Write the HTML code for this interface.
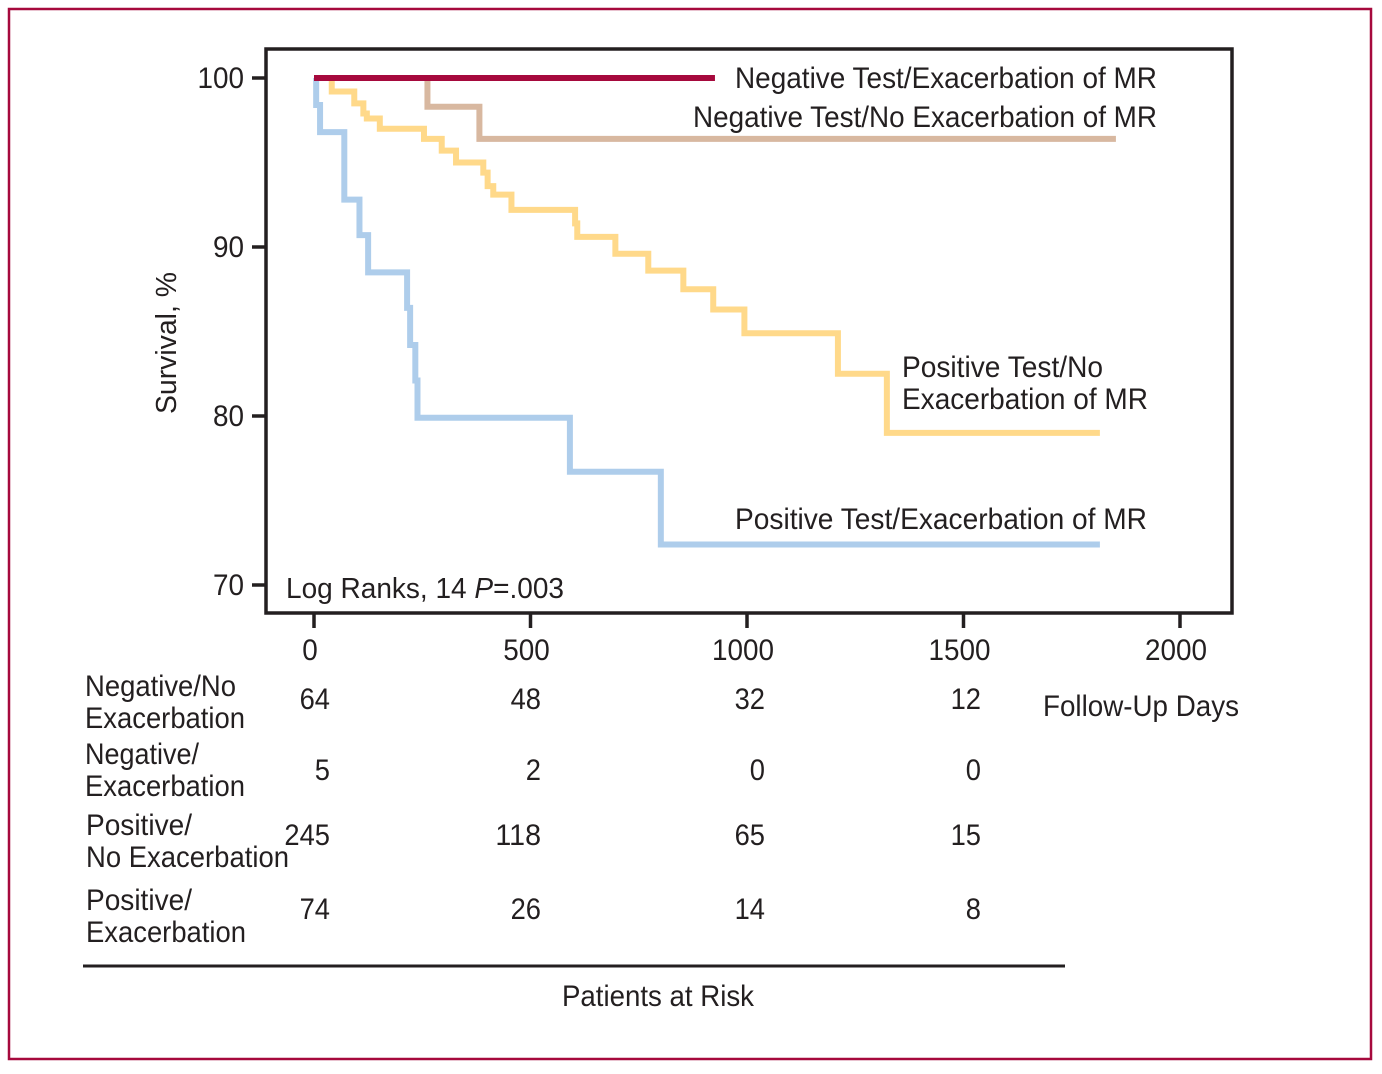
<!DOCTYPE html>
<html><head><meta charset="utf-8"><style>
html,body{margin:0;padding:0;background:#fff;}
svg text{font-family:"Liberation Sans Narrow","Liberation Sans",sans-serif;fill:#231f20;}
</style></head><body>
<svg width="1382" height="1069" viewBox="0 0 1382 1069" xmlns="http://www.w3.org/2000/svg">
<rect x="9" y="9" width="1362" height="1050" fill="none" stroke="#a6093d" stroke-width="2.5"/>
<g id="plot"></g>
<rect x="266" y="49" width="966" height="564" fill="none" stroke="#231f20" stroke-width="3.5"/>
<g id="axes"></g>
<text x="176" y="343" font-size="29" text-anchor="middle" textLength="142" lengthAdjust="spacingAndGlyphs" transform="rotate(-90 176 343)">Survival, %</text>
<text x="286" y="598" font-size="29" textLength="278" lengthAdjust="spacingAndGlyphs">Log Ranks, 14 <tspan font-style="italic">P</tspan>=.003</text>
<text x="735" y="88" font-size="30" textLength="422" lengthAdjust="spacingAndGlyphs">Negative Test/Exacerbation of MR</text>
<text x="693" y="127" font-size="30" textLength="464" lengthAdjust="spacingAndGlyphs">Negative Test/No Exacerbation of MR</text>
<text x="902" y="377" font-size="30" textLength="201" lengthAdjust="spacingAndGlyphs">Positive Test/No</text>
<text x="902" y="409" font-size="30" textLength="246" lengthAdjust="spacingAndGlyphs">Exacerbation of MR</text>
<text x="735" y="529" font-size="30" textLength="412" lengthAdjust="spacingAndGlyphs">Positive Test/Exacerbation of MR</text>
<text x="1043" y="716" font-size="30" textLength="196" lengthAdjust="spacingAndGlyphs">Follow-Up Days</text>
<g id="risk"></g>
<line x1="83" y1="966" x2="1065" y2="966" stroke="#231f20" stroke-width="3"/>
<text x="562" y="1006" font-size="30" textLength="192" lengthAdjust="spacingAndGlyphs">Patients at Risk</text>
</svg>
<script>
const xTicks=[0,500,1000,1500,2000];
const yTicks=[70,80,90,100];
const negExT=[0,926]; const negExV=[100,100];
const negNoT=[0,262,382,1852]; const negNoV=[100,98.3,96.4,96.4];
const posNoT=[0,41,93,114,122,152,254,295,328,391,401,414,456,603,608,696,772,853,922,994,1210,1323,1815];
const posNoV=[100,99.2,98.5,97.9,97.6,97.0,96.4,95.7,95.0,94.4,93.6,93.1,92.2,91.4,90.6,89.6,88.6,87.5,86.3,84.9,82.5,79.0,79.0];
const posExT=[5,14,70,105,125,215,222,234,239,591,801,1815];
const posExV=[98.4,96.8,92.8,90.7,88.5,86.4,84.2,82.1,79.9,76.7,72.4,72.4];
const riskRows=["Negative/No|Exacerbation","Negative/|Exacerbation","Positive/|No Exacerbation","Positive/|Exacerbation"];
const riskTimes=[0,500,1000,1500];
const riskNegNo=[64,48,32,12];
const riskNegEx=[5,2,0,0];
const riskPosNo=[245,118,65,15];
const riskPosEx=[74,26,14,8];
const NS="http://www.w3.org/2000/svg";
const X=d=>314+d*0.433;
const Y=v=>78+(100-v)*16.9;
function el(t,a,p){const e=document.createElementNS(NS,t);for(const k in a)e.setAttribute(k,a[k]);p.appendChild(e);return e;}
const plot=document.getElementById('plot'),axes=document.getElementById('axes'),risk=document.getElementById('risk');
function stepPath(T,V,startV){let d=`M${X(0)+2},${Y(startV)}`;
 for(let i=0;i<T.length;i++){d+=` H${X(T[i])} V${Y(V[i])}`;}return d;}
let p;
p=el('path',{d:stepPath(negNoT,negNoV,100),fill:'none',stroke:'#d8b8a0','stroke-width':6},plot);


p=el('path',{d:stepPath(posNoT,posNoV,100),fill:'none',stroke:'#ffd98a','stroke-width':6},plot);


p=el('path',{d:stepPath(posExT,posExV,100),fill:'none',stroke:'#aecdeb','stroke-width':6},plot);


p=el('path',{d:stepPath(negExT,negExV,100),fill:'none',stroke:'#a6093d','stroke-width':6},plot);


xTicks.forEach(t=>{
 let l=el('line',{x1:X(t),x2:X(t),y1:614,y2:628,stroke:'#231f20','stroke-width':3.5},axes);
 
 
 let tx=el('text',{x:X(t)-4,y:660,'font-size':30,'text-anchor':'middle',textLength:String(t).length*15.5,lengthAdjust:'spacingAndGlyphs'},axes);tx.textContent=t;
 
 
});
yTicks.forEach(v=>{
 let l=el('line',{x1:252,x2:266,y1:Y(v),y2:Y(v),stroke:'#231f20','stroke-width':3.5},axes);
 
 
 let tx=el('text',{x:244,y:Y(v)+10,'font-size':30,'text-anchor':'end',textLength:String(v).length*15.5,lengthAdjust:'spacingAndGlyphs'},axes);tx.textContent=v;
 
 
});
const rowY=[697,768,833,907];
const rowLabelY=[[696,728],[764,796],[835,867],[910,942]];
const rowLabelW=[[151,160],[114,160],[106,203],[106,160]];
const riskData=[riskNegNo,riskNegEx,riskPosNo,riskPosEx];
const riskRight=[330,541,765,981];
riskRows.forEach((r,i)=>{
 r.split('|').forEach((s,j)=>{
  let tx=el('text',{x:85+(i>=2?1:0),y:rowLabelY[i][j],'font-size':30,textLength:rowLabelW[i][j],lengthAdjust:'spacingAndGlyphs'},risk);tx.textContent=s;
  
  
 });
 riskData[i].forEach((n,k)=>{
  let tx=el('text',{x:riskRight[k],y:rowY[i]+12,'font-size':30,'text-anchor':'end',textLength:String(n).length*15.2,lengthAdjust:'spacingAndGlyphs'},risk);tx.textContent=n;
  
  
 });
});
</script>
</body></html>
